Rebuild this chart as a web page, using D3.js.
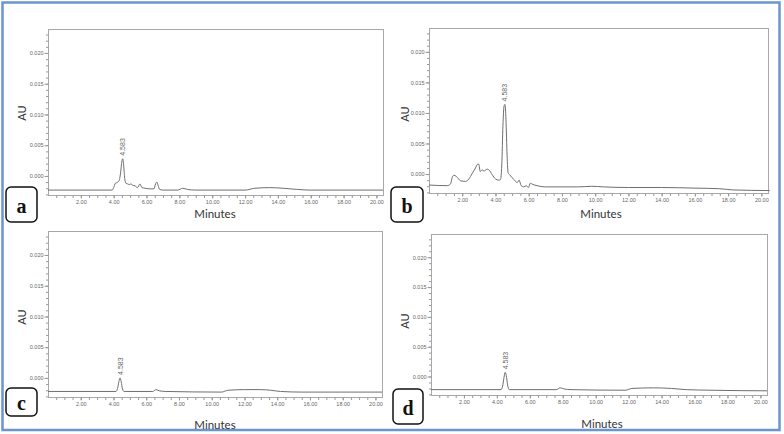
<!DOCTYPE html>
<html><head><meta charset="utf-8">
<script src="https://cdn.jsdelivr.net/npm/d3@7"></script>
<style>body{margin:0;background:#fff}svg{display:block}</style>
</head><body>
<svg id="chart" width="784" height="434"></svg>
<script>
// ---- data ----
const panelLetters = ["a", "b", "c", "d"];
const peakLabel = "4.583";
const xLabel = "Minutes";
const yLabel = "AU";
const xMajorTicks = [2, 4, 6, 8, 10, 12, 14, 16, 18, 20];
const yMajorTicks = [0.000, 0.005, 0.010, 0.015, 0.020];

const timeA = [0, 3.9, 4.0, 4.1, 4.25, 4.35, 4.42, 4.5, 4.55, 4.6, 4.67, 4.75, 4.85, 4.95, 5.05, 5.15, 5.3, 5.45, 5.6, 5.72, 5.9, 6.2, 6.45, 6.55, 6.62, 6.7, 6.8, 7.0, 7.9, 8.2, 8.5, 9.0, 12.0, 12.6, 13.5, 14.3, 15.2, 16.0, 20.4];
const auA = [-0.0023, -0.0023, -0.0019, -0.0012, -0.0010, -0.0006, 0.0005, 0.0024, 0.0028, 0.0020, -0.0004, -0.0012, -0.0013, -0.0014, -0.0013, -0.0015, -0.0016, -0.0019, -0.0013, -0.0019, -0.0020, -0.0021, -0.0021, -0.0013, -0.0010, -0.0015, -0.0022, -0.0023, -0.0023, -0.0020, -0.0022, -0.0023, -0.0023, -0.0020, -0.0019, -0.0020, -0.0022, -0.0023, -0.0023];

const timeB = [0, 1.1, 1.3, 1.4, 1.5, 1.65, 1.9, 2.2, 2.4, 2.6, 2.8, 2.92, 3.0, 3.08, 3.2, 3.3, 3.5, 3.6, 3.8, 4.0, 4.2, 4.3, 4.38, 4.45, 4.52, 4.57, 4.63, 4.7, 4.76, 4.85, 5.0, 5.15, 5.3, 5.42, 5.55, 5.7, 5.85, 5.98, 6.1, 6.25, 6.5, 7.0, 8.0, 9.0, 9.8, 10.5, 12.0, 14.0, 16.0, 17.5, 18.3, 20.5];
const auB = [-0.0018, -0.0019, -0.0016, -0.0005, -0.0002, -0.0004, -0.0011, -0.0012, -0.0008, 0.0001, 0.0010, 0.0016, 0.0016, 0.0004, 0.0007, 0.0005, 0.0008, 0.0007, -0.0001, -0.0008, -0.0010, -0.0009, 0.0015, 0.0080, 0.0112, 0.0114, 0.0090, 0.0030, 0.0002, -0.0001, -0.0006, -0.0010, -0.0014, -0.0010, -0.0019, -0.0021, -0.0019, -0.0022, -0.0015, -0.0017, -0.0019, -0.0021, -0.0021, -0.0021, -0.0020, -0.0021, -0.0022, -0.0022, -0.0023, -0.0024, -0.0026, -0.0027];

const timeC = [0, 4.15, 4.25, 4.33, 4.4, 4.47, 4.55, 4.65, 6.4, 6.6, 6.8, 7.2, 10.6, 11.0, 12.0, 13.0, 13.6, 14.2, 15.5, 20.4];
const auC = [-0.0022, -0.0022, -0.0017, -0.0006, 0.0000, -0.0006, -0.0018, -0.0022, -0.0022, -0.0019, -0.0021, -0.0022, -0.0023, -0.0020, -0.0019, -0.0019, -0.0020, -0.0022, -0.0023, -0.0023];

const timeD = [0, 4.25, 4.35, 4.43, 4.5, 4.57, 4.65, 4.75, 7.6, 7.85, 8.1, 8.5, 11.8, 12.2, 13.5, 14.6, 15.5, 17.0, 20.4];
const auD = [-0.0022, -0.0022, -0.0016, -0.0002, 0.0007, 0.0002, -0.0014, -0.0022, -0.0022, -0.0019, -0.0021, -0.0022, -0.0023, -0.0020, -0.0019, -0.0020, -0.0022, -0.0023, -0.0024];

const seriesTimes = [timeA, timeB, timeC, timeD];
const seriesValues = [auA, auB, auC, auD];

// ---- layout ----
const layout = [
  {box: [48, 29, 383, 195], tag: [6, 187, 31, 35], au: [21, 113], min: [215, 213]},
  {box: [429, 28, 768, 193], tag: [391, 187, 32, 35], au: [404, 114], min: [601, 213]},
  {box: [48, 231, 382, 397], tag: [6, 388, 31, 28], au: [21, 317], min: [215, 424]},
  {box: [431, 234, 767, 395], tag: [393, 389, 30, 35], au: [404, 321], min: [602, 423]}
];
const xDomain = [0, 20.4];
const yDomain = [-0.0031, 0.0239];

const svg = d3.select("#chart");
svg.append("rect").attr("x", 2.5).attr("y", 2.5).attr("width", 777).attr("height", 427.5)
  .attr("fill", "none").attr("stroke", "#6b95cf").attr("stroke-width", 2.5);

layout.forEach((L, i) => {
  const [x0, y0, x1, y1] = L.box;
  const x = d3.scaleLinear().domain(xDomain).range([x0, x1]);
  const y = d3.scaleLinear().domain(yDomain).range([y1, y0]);
  const g = svg.append("g");

  // frame
  g.append("rect").attr("x", x0 + 0.5).attr("y", y0 + 0.5).attr("width", x1 - x0).attr("height", y1 - y0)
    .attr("fill", "none").attr("stroke", "#a8a8a8").attr("stroke-width", 1);

  // y minor ticks
  const yMinor = d3.range(-3, 24).map(v => v / 1000);
  g.append("g").attr("transform", `translate(${x0 + 0.5},0)`)
    .call(d3.axisLeft(y).tickValues(yMinor).tickSize(2.5).tickFormat(""))
    .call(s => s.select(".domain").remove())
    .selectAll("line").attr("stroke", "#999");
  const ya = g.append("g").attr("transform", `translate(${x0 + 0.5},0)`)
    .call(d3.axisLeft(y).tickValues(yMajorTicks).tickSize(4).tickPadding(1).tickFormat(d3.format(".3f")));
  ya.select(".domain").remove();
  ya.selectAll("line").attr("stroke", "#999");
  ya.selectAll("text").attr("fill", "#666").style("font", "5.5px 'Liberation Sans Narrow', Arial, sans-serif");

  // x ticks
  const xMinor = d3.range(1, 41).map(v => v / 2);
  g.append("g").attr("transform", `translate(0,${y1 + 0.5})`)
    .call(d3.axisBottom(x).tickValues(xMinor).tickSize(2.5).tickFormat(""))
    .call(s => s.select(".domain").remove())
    .selectAll("line").attr("stroke", "#999");
  const xa = g.append("g").attr("transform", `translate(0,${y1 + 0.5})`)
    .call(d3.axisBottom(x).tickValues(xMajorTicks).tickSize(3).tickPadding(2).tickFormat(d3.format(".2f")));
  xa.select(".domain").remove();
  xa.selectAll("line").attr("stroke", "#999");
  xa.selectAll("text").attr("fill", "#666").style("font", "5.5px 'Liberation Sans Narrow', Arial, sans-serif");

  // trace
  const pts = seriesTimes[i].map((t, k) => [t, seriesValues[i][k]]);
  g.append("path").datum(pts)
    .attr("d", d3.line().x(d => x(d[0])).y(d => y(d[1])).curve(d3.curveMonotoneX))
    .attr("fill", "none").attr("stroke", "#6f6f6f").attr("stroke-width", 1);

  // peak label
  const top = pts.reduce((a, b) => (b[1] > a[1] ? b : a));
  g.append("text")
    .attr("transform", `translate(${x(top[0]) + 2.5},${y(top[1]) - 3}) rotate(-90)`)
    .attr("fill", "#666").style("font", "7px Arial, sans-serif").text(peakLabel);

  // axis titles
  g.append("text").attr("transform", `translate(${L.au[0]},${L.au[1]}) rotate(-90)`)
    .attr("text-anchor", "middle").attr("dominant-baseline", "central")
    .attr("fill", "#333").style("font", "11px Lato, sans-serif").text(yLabel);
  g.append("text").attr("x", L.min[0]).attr("y", L.min[1])
    .attr("text-anchor", "middle").attr("dominant-baseline", "central")
    .attr("fill", "#333").style("font", "11.5px Lato, sans-serif").text(xLabel);

  // panel tag
  const [tx, ty, tw, th] = L.tag;
  g.append("rect").attr("x", tx).attr("y", ty).attr("width", tw).attr("height", th).attr("rx", 5)
    .attr("fill", "#fff").attr("stroke", "#111").attr("stroke-width", 1.5);
  g.append("text").attr("x", tx + tw / 2).attr("y", ty + th / 2 + 1)
    .attr("text-anchor", "middle").attr("dominant-baseline", "central")
    .attr("fill", "#111").style("font", "bold 20px 'Liberation Serif', 'Times New Roman', serif")
    .text(panelLetters[i]);
});
</script>
</body></html>
